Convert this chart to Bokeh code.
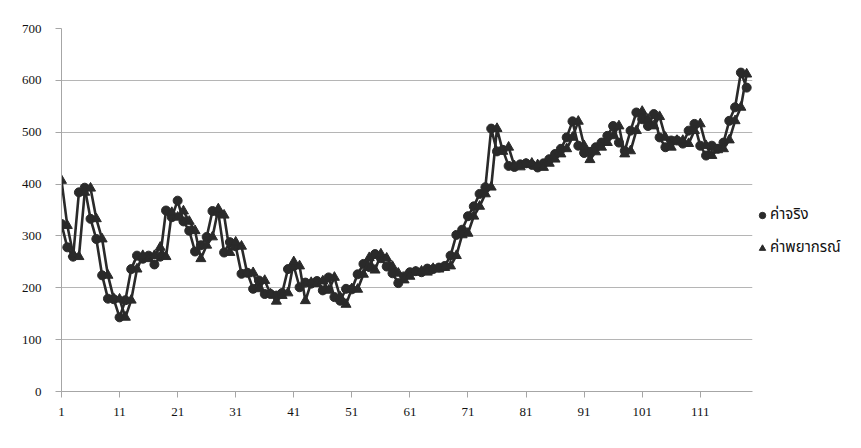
from bokeh.plotting import figure
from bokeh.models import (ColumnDataSource, Range1d, FixedTicker, Legend, LegendItem)
from bokeh.embed import file_html
from bokeh.resources import INLINE

# Observation number and the two series (actual vs. forecast)
period = list(range(1, 120))
actual = [
    323, 278, 260, 384, 393, 333, 294, 224, 179, 178,
    143, 176, 236, 262, 256, 262, 245, 260, 349, 336,
    368, 328, 310, 270, 282, 298, 348, 345, 268, 288,
    280, 227, 229, 198, 214, 188, 188, 185, 190, 236,
    242, 201, 210, 208, 213, 195, 220, 182, 175, 198,
    197, 226, 246, 240, 265, 257, 241, 228, 209, 222,
    230, 232, 230, 237, 236, 239, 242, 262, 302, 312,
    338, 357, 381, 394, 507, 463, 466, 435, 433, 438,
    440, 437, 432, 440, 448, 458, 468, 490, 521, 474,
    460, 462, 471, 480, 493, 512, 480, 464, 503, 538,
    525, 512, 535, 490, 471, 484, 484, 478, 503, 516,
    474, 455, 474, 468, 480, 522, 548, 615, 586,
]
forecast = [
    407, 320, 265, 260, 384, 392, 333, 294, 224, 179,
    178, 143, 176, 236, 262, 256, 262, 278, 260, 345,
    336, 348, 328, 310, 256, 282, 298, 352, 340, 268,
    288, 280, 227, 229, 198, 214, 188, 174, 185, 190,
    250, 242, 175, 210, 208, 213, 195, 220, 182, 168,
    198, 197, 226, 258, 234, 265, 257, 241, 228, 215,
    222, 230, 232, 230, 237, 236, 239, 242, 262, 302,
    305, 338, 357, 381, 394, 507, 463, 471, 435, 433,
    438, 440, 437, 432, 440, 448, 458, 468, 490, 521,
    474, 447, 462, 471, 480, 493, 512, 458, 464, 503,
    540, 525, 512, 530, 490, 471, 484, 484, 478, 503,
    516, 474, 455, 466, 468, 485, 522, 548, 612,
]
x_tick_values = list(range(1, 112, 10))
y_tick_values = list(range(0, 701, 100))
label_actual = "ค่าจริง"
label_forecast = "ค่าพยากรณ์"

src = ColumnDataSource(dict(x=period, a=actual, f=forecast))

ink = "#2a2a2a"
axis_grey = "#a6a6a6"
serif = "Liberation Serif"

p = figure(frame_width=691, frame_height=363,
           output_backend="svg", toolbar_location=None,
           x_range=Range1d(1, 120), y_range=Range1d(0, 700),
           min_border_left=61, min_border_right=109, min_border_top=28,
           min_border_bottom=57)
p.outline_line_color = None
p.background_fill_color = "white"
p.border_fill_color = "white"

# grid: horizontal only
p.xgrid.visible = False
p.ygrid.ticker = FixedTicker(ticks=y_tick_values)
p.ygrid.grid_line_color = "#b5b5b5"
p.ygrid.grid_line_width = 1

# axes
p.xaxis.ticker = FixedTicker(ticks=x_tick_values)
p.yaxis.ticker = FixedTicker(ticks=y_tick_values)
for ax in (p.xaxis, p.yaxis):
    ax.axis_line_color = axis_grey
    ax.major_tick_line_color = axis_grey
    ax.minor_tick_line_color = None
    ax.major_tick_in = 0
    ax.major_tick_out = 6
    ax.major_label_text_font = serif
    ax.major_label_text_font_size = "13px"
    ax.major_label_text_color = "#111111"
p.xaxis.major_label_standoff = 10
p.yaxis.major_label_standoff = 14

# series
la = p.line("x", "a", source=src, line_color=ink, line_width=2.6)
ma = p.scatter("x", "a", source=src, marker="circle", size=9,
               fill_color=ink, line_color=ink)
lf = p.line("x", "f", source=src, line_color=ink, line_width=2.6)
mf = p.scatter("x", "f", source=src, marker="triangle", size=10,
               fill_color=ink, line_color=ink)

# legend in the side panel to the right of the frame
legend = Legend(items=[LegendItem(label=label_actual, renderers=[ma]),
                       LegendItem(label=label_forecast, renderers=[mf])],
                location=(2, 132), orientation="vertical",
                border_line_color=None, background_fill_alpha=0,
                glyph_width=16, glyph_height=22, label_standoff=0,
                spacing=10, padding=2, margin=0,
                label_text_font="Noto Sans Thai, Tahoma, sans-serif",
                label_text_font_size="15px", label_text_color="#111111")
p.add_layout(legend, "right")

open("out.html", "w").write(file_html(p, INLINE))
